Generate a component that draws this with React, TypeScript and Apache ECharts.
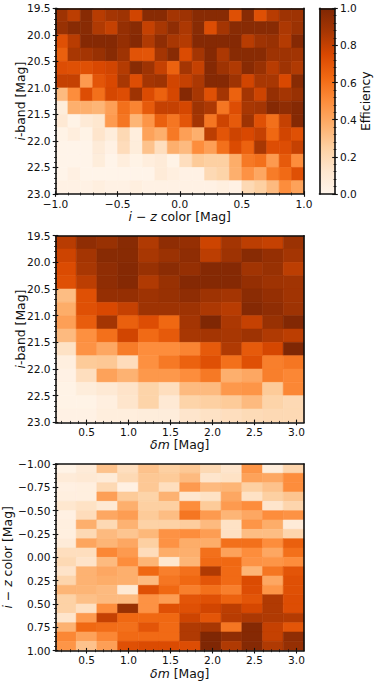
import React, { useEffect, useRef } from "react";
import * as echarts from "echarts";

const FONT = "DejaVu Sans";
const INK = "#111111";
const NAME_SIZE = 12.4;
const TICK_SIZE = 10.6;
const ORANGES = ["#fff5eb", "#fee6ce", "#fdd0a2", "#fdae6b", "#fd8d3c", "#f16913", "#d94801", "#a63603", "#7f2704"];

const colorEdges = [-1, -0.9, -0.8, -0.7, -0.6, -0.5, -0.4, -0.3, -0.2, -0.1, 0, 0.1, 0.2, 0.3, 0.4, 0.5, 0.6, 0.7, 0.8, 0.9, 1];
const magEdges = [19.5, 19.75, 20, 20.25, 20.5, 20.75, 21, 21.25, 21.5, 21.75, 22, 22.25, 22.5, 22.75, 23];
const dmEdges = [0.13, 0.377, 0.623, 0.87, 1.117, 1.363, 1.61, 1.857, 2.103, 2.35, 2.597, 2.843, 3.09];

const magTicks = [19.5, 20, 20.5, 21, 21.5, 22, 22.5, 23];
const magMinor = [19.6, 19.7, 19.8, 19.9, 20.1, 20.2, 20.3, 20.4, 20.6, 20.7, 20.8, 20.9, 21.1, 21.2, 21.3, 21.4, 21.6, 21.7, 21.8, 21.9, 22.1, 22.2, 22.3, 22.4, 22.6, 22.7, 22.8, 22.9];
const colorTicks = [-1, -0.5, 0, 0.5, 1];
const colorMinor = [-0.9, -0.8, -0.7, -0.6, -0.4, -0.3, -0.2, -0.1, 0.1, 0.2, 0.3, 0.4, 0.6, 0.7, 0.8, 0.9];
const dmTicks = [0.5, 1, 1.5, 2, 2.5, 3];
const dmMinor = [0.2, 0.3, 0.4, 0.6, 0.7, 0.8, 0.9, 1.1, 1.2, 1.3, 1.4, 1.6, 1.7, 1.8, 1.9, 2.1, 2.2, 2.3, 2.4, 2.6, 2.7, 2.8, 2.9];
const colorFineTicks = [-1, -0.75, -0.5, -0.25, 0, 0.25, 0.5, 0.75, 1];
const colorFineMinor = [-0.95, -0.9, -0.85, -0.8, -0.7, -0.65, -0.6, -0.55, -0.45, -0.4, -0.35, -0.3, -0.2, -0.15, -0.1, -0.05, 0.05, 0.1, 0.15, 0.2, 0.3, 0.35, 0.4, 0.45, 0.55, 0.6, 0.65, 0.7, 0.8, 0.85, 0.9, 0.95];
const effTicks = [0, 0.2, 0.4, 0.6, 0.8, 1];
const effMinor = [0.04, 0.08, 0.12, 0.16, 0.24, 0.28, 0.32, 0.36, 0.44, 0.48, 0.52, 0.56, 0.64, 0.68, 0.72, 0.76, 0.84, 0.88, 0.92, 0.96];

const colorMagValues = [
  [0.9, 0.82, 0.97, 0.83, 0.88, 0.9, 0.77, 0.97, 0.97, 0.88, 0.9, 0.97, 0.97, 0.97, 0.72, 0.97, 0.72, 0.83, 0.9, 0.9],
  [0.92, 0.97, 0.97, 0.85, 0.8, 0.93, 0.97, 0.8, 0.87, 0.95, 0.86, 0.97, 0.73, 0.88, 0.97, 0.97, 0.97, 0.97, 0.86, 0.91],
  [0.72, 0.83, 0.98, 0.98, 0.98, 0.93, 0.98, 0.85, 0.95, 0.87, 0.84, 0.98, 0.98, 0.98, 0.98, 0.83, 0.9, 0.92, 0.84, 0.98],
  [0.66, 0.87, 0.88, 0.92, 0.97, 0.9, 0.71, 0.7, 0.88, 0.97, 0.74, 0.88, 0.98, 0.86, 0.97, 0.97, 0.97, 0.9, 0.9, 0.89],
  [0.73, 0.72, 0.72, 0.75, 0.77, 0.84, 0.97, 0.9, 0.8, 0.65, 0.88, 0.8, 0.98, 0.9, 0.85, 0.97, 0.92, 0.83, 0.9, 0.85],
  [0.8, 0.8, 0.45, 0.7, 0.75, 0.87, 0.73, 0.88, 0.9, 0.77, 0.8, 0.86, 0.98, 0.98, 0.9, 0.77, 0.87, 0.87, 0.75, 0.97],
  [0.33, 0.5, 0.73, 0.6, 0.76, 0.73, 0.9, 0.74, 0.65, 0.76, 0.98, 0.87, 0.72, 0.88, 0.65, 0.88, 0.78, 0.93, 0.88, 0.92],
  [0.07, 0.37, 0.37, 0.35, 0.43, 0.6, 0.53, 0.68, 0.8, 0.8, 0.76, 0.9, 0.86, 0.58, 0.73, 0.87, 0.88, 0.98, 0.95, 0.98],
  [0.1, 0.02, 0.09, 0.12, 0.45, 0.58, 0.35, 0.47, 0.66, 0.58, 0.7, 0.88, 0.58, 0.78, 0.68, 0.9, 0.72, 0.6, 0.8, 0.98],
  [0.02, 0.06, 0.02, 0.13, 0.07, 0.2, 0.06, 0.42, 0.37, 0.57, 0.43, 0.37, 0.82, 0.7, 0.78, 0.75, 0.8, 0.63, 0.77, 0.72],
  [0.01, 0.01, 0.01, 0.08, 0.03, 0.18, 0.07, 0.3, 0.17, 0.37, 0.33, 0.5, 0.43, 0.6, 0.74, 0.65, 0.87, 0.73, 0.73, 0.8],
  [0.01, 0.01, 0.01, 0.07, 0.01, 0.06, 0.02, 0.06, 0.08, 0.02, 0.17, 0.27, 0.25, 0.25, 0.38, 0.57, 0.6, 0.45, 0.68, 0.5],
  [0.01, 0.04, 0.01, 0.01, 0.01, 0.01, 0.01, 0.01, 0.08, 0.05, 0.03, 0.03, 0.2, 0.23, 0.37, 0.48, 0.4, 0.56, 0.62, 0.72],
  [0.03, 0.03, 0.03, 0.05, 0.03, 0.03, 0.05, 0.03, 0.03, 0.03, 0.03, 0.03, 0.03, 0.05, 0.03, 0.2, 0.25, 0.33, 0.5, 0.42],
];

const dmMagValues = [
  [0.83, 0.95, 0.92, 0.97, 0.85, 0.95, 0.93, 0.78, 0.88, 0.82, 0.8, 0.91],
  [0.78, 0.88, 0.97, 0.97, 0.87, 0.91, 0.95, 0.82, 0.9, 0.97, 0.93, 0.88],
  [0.74, 0.87, 0.95, 0.98, 0.92, 0.96, 0.93, 0.98, 0.98, 0.89, 0.92, 0.82],
  [0.72, 0.82, 0.95, 0.98, 0.85, 0.92, 0.98, 0.98, 0.98, 0.93, 0.9, 0.89],
  [0.32, 0.72, 0.93, 0.93, 0.9, 0.92, 0.95, 0.9, 0.88, 0.96, 0.93, 0.89],
  [0.38, 0.72, 0.75, 0.8, 0.9, 0.9, 0.9, 0.86, 0.83, 0.98, 0.95, 0.9],
  [0.43, 0.67, 0.88, 0.66, 0.73, 0.63, 0.88, 1.0, 0.86, 0.8, 0.92, 0.99],
  [0.33, 0.49, 0.6, 0.77, 0.62, 0.68, 0.87, 0.88, 0.87, 0.9, 0.85, 0.82],
  [0.15, 0.48, 0.4, 0.56, 0.5, 0.5, 0.53, 0.68, 0.85, 0.68, 0.76, 1.0],
  [0.05, 0.27, 0.28, 0.18, 0.49, 0.57, 0.65, 0.72, 0.6, 0.72, 0.55, 0.58],
  [0.03, 0.17, 0.42, 0.36, 0.46, 0.46, 0.5, 0.57, 0.37, 0.4, 0.55, 0.52],
  [0.02, 0.07, 0.1, 0.14, 0.23, 0.17, 0.33, 0.33, 0.46, 0.47, 0.27, 0.52],
  [0.02, 0.02, 0.05, 0.13, 0.23, 0.1, 0.23, 0.25, 0.27, 0.33, 0.23, 0.2],
  [0.03, 0.03, 0.06, 0.06, 0.07, 0.07, 0.13, 0.15, 0.17, 0.19, 0.2, 0.2],
];

const dmColorValues = [
  [0.02, 0.08, 0.3, 0.17, 0.3, 0.25, 0.28, 0.2, 0.13, 0.47, 0.07, 0.22],
  [0.08, 0.1, 0.08, 0.2, 0.28, 0.27, 0.33, 0.13, 0.15, 0.42, 0.4, 0.5],
  [0.04, 0.05, 0.2, 0.04, 0.28, 0.17, 0.45, 0.33, 0.35, 0.25, 0.3, 0.5],
  [0.05, 0.05, 0.43, 0.27, 0.23, 0.36, 0.12, 0.15, 0.4, 0.15, 0.25, 0.29],
  [0.12, 0.15, 0.1, 0.37, 0.25, 0.25, 0.5, 0.27, 0.45, 0.5, 0.13, 0.22],
  [0.04, 0.18, 0.4, 0.44, 0.27, 0.32, 0.58, 0.45, 0.35, 0.4, 0.5, 0.48],
  [0.05, 0.37, 0.2, 0.36, 0.24, 0.24, 0.26, 0.33, 0.15, 0.47, 0.38, 0.08],
  [0.05, 0.2, 0.33, 0.29, 0.34, 0.48, 0.5, 0.44, 0.16, 0.32, 0.32, 0.22],
  [0.08, 0.41, 0.35, 0.4, 0.25, 0.48, 0.38, 0.38, 0.6, 0.6, 0.5, 0.66],
  [0.17, 0.17, 0.52, 0.45, 0.18, 0.38, 0.37, 0.6, 0.42, 0.5, 0.4, 0.6],
  [0.2, 0.14, 0.33, 0.5, 0.35, 0.12, 0.35, 0.62, 0.63, 0.48, 0.47, 0.5],
  [0.14, 0.36, 0.4, 0.37, 0.63, 0.55, 0.6, 0.85, 0.62, 0.35, 0.58, 0.7],
  [0.22, 0.36, 0.38, 0.37, 0.33, 0.58, 0.63, 0.7, 0.62, 0.74, 0.4, 0.72],
  [0.35, 0.35, 0.33, 0.1, 0.72, 0.63, 0.55, 0.6, 0.55, 0.73, 0.47, 0.72],
  [0.24, 0.31, 0.33, 0.33, 0.48, 0.44, 0.7, 0.72, 0.65, 0.7, 0.85, 0.73],
  [0.24, 0.16, 0.5, 0.92, 0.48, 0.72, 0.72, 0.77, 0.82, 0.76, 0.85, 0.73],
  [0.13, 0.45, 0.8, 0.63, 0.63, 0.63, 0.78, 0.7, 0.83, 0.86, 0.85, 0.84],
  [0.36, 0.63, 0.61, 0.6, 0.7, 0.62, 0.85, 0.87, 0.58, 0.98, 0.8, 0.7],
  [0.52, 0.42, 0.52, 0.62, 0.62, 0.62, 0.85, 1.0, 0.95, 0.98, 0.8, 0.95],
  [0.47, 0.3, 0.43, 0.72, 0.74, 0.74, 0.73, 1.0, 0.85, 0.98, 0.85, 0.93],
];

const minus = (s: string) => s.replace("-", "\u2212");

type AxisSpec = {
  min: number;
  max: number;
  ticks: number[];
  minor: number[];
  fmt: (v: number) => string;
  name: string;
  gap: number;
  margin: number;
  inverse?: boolean;
};

const AXIS_Z = 10;

function buildOption() {
  const grids: any[] = [];
  const xAxes: any[] = [];
  const yAxes: any[] = [];
  const series: any[] = [];

  const nameStyle = {
    fontFamily: FONT,
    fontSize: NAME_SIZE,
    color: INK,
    rich: { it: { fontFamily: FONT, fontSize: NAME_SIZE, fontStyle: "italic", color: INK } },
  };

  // One axis carries line, labels and outward ticks; others add the inward half and minor ticks.
  const addAxes = (list: any[], gridIndex: number, side: string, a: AxisSpec, rotate = 0) => {
    const base = { type: "value", gridIndex, position: side, min: a.min, max: a.max, inverse: a.inverse, splitLine: { show: false }, silent: true, z: AXIS_Z };
    const mainIndex = list.length;
    list.push({
      ...base,
      name: a.name,
      nameLocation: "middle",
      nameGap: a.gap,
      nameRotate: rotate,
      nameMoveOverlap: false,
      nameTextStyle: nameStyle,
      axisLine: { show: true, onZero: false, lineStyle: { color: INK, width: 1.6 } },
      axisTick: { show: true, length: 2.8, customValues: a.ticks, lineStyle: { color: INK, width: 1.1 } },
      axisLabel: {
        show: true,
        customValues: a.ticks,
        formatter: a.fmt,
        margin: a.margin,
        fontFamily: FONT,
        fontSize: TICK_SIZE,
        color: INK,
        hideOverlap: false,
      },
    });
    const extra = (vals: number[], length: number, inside: boolean, width: number) => {
      list.push({
        ...base,
        axisLine: { show: false, onZero: false },
        axisLabel: { show: false },
        axisTick: { show: true, inside, length, customValues: vals, lineStyle: { color: INK, width } },
      });
    };
    extra(a.ticks, 2.8, true, 1.1);
    extra(a.minor, 1.5, false, 0.8);
    extra(a.minor, 1.5, true, 0.8);
    return mainIndex;
  };

  const addFrame = (list: any[], gridIndex: number, side: string, min: number, max: number, inverse?: boolean) => {
    list.push({
      type: "value",
      gridIndex,
      position: side,
      min,
      max,
      inverse,
      silent: true,
      z: AXIS_Z,
      splitLine: { show: false },
      axisTick: { show: false },
      axisLabel: { show: false },
      axisLine: { show: true, onZero: false, lineStyle: { color: INK, width: 1.6 } },
    });
  };

  const heatmap = (
    g: { top: number; height: number },
    xA: AxisSpec,
    yA: AxisSpec,
    xEdges: number[],
    yEdges: number[],
    values: number[][],
  ) => {
    const gridIndex = grids.length;
    grids.push({ left: 55.5, width: 248.5, top: g.top, height: g.height, outerBoundsMode: "none" });
    const xi = addAxes(xAxes, gridIndex, "bottom", xA);
    const yi = addAxes(yAxes, gridIndex, "left", yA, 90);
    addFrame(xAxes, gridIndex, "top", xA.min, xA.max);
    addFrame(yAxes, gridIndex, "right", yA.min, yA.max, yA.inverse);
    const data: number[][] = [];
    values.forEach((row, r) =>
      row.forEach((v, c) => data.push([xEdges[c], yEdges[r], xEdges[c + 1], yEdges[r + 1], v])),
    );
    series.push({
      type: "custom",
      xAxisIndex: xi,
      yAxisIndex: yi,
      coordinateSystem: "cartesian2d",
      silent: true,
      clip: true,
      data,
      encode: { x: [0, 2], y: [1, 3] },
      renderItem: (_p: any, api: any) => {
        const a = api.coord([api.value(0), api.value(1)]);
        const b = api.coord([api.value(2), api.value(3)]);
        const fill = api.visual("color");
        return {
          type: "rect",
          shape: { x: Math.min(a[0], b[0]), y: Math.min(a[1], b[1]), width: Math.abs(b[0] - a[0]), height: Math.abs(b[1] - a[1]) },
          style: { fill, stroke: fill, lineWidth: 0.6 },
        };
      },
    });
  };

  const num1 = (v: number) => minus(v.toFixed(1));
  const num2 = (v: number) => minus(v.toFixed(2));
  const colorLabel = "{it|i} \u2212 {it|z} color [Mag]";
  const magLabel = "{it|i}-band [Mag]";
  const dmLabel = "{it|\u03b4m} [Mag]";

  heatmap(
    { top: 8.3, height: 185.7 },
    { min: -1, max: 1, ticks: colorTicks, minor: colorMinor, fmt: num1, name: colorLabel, gap: 16, margin: 4 },
    { min: 19.5, max: 23, ticks: magTicks, minor: magMinor, fmt: num1, name: magLabel, gap: 29, margin: 5, inverse: true },
    colorEdges,
    magEdges,
    colorMagValues,
  );
  heatmap(
    { top: 235.7, height: 186.7 },
    { min: 0.13, max: 3.09, ticks: dmTicks, minor: dmMinor, fmt: num1, name: dmLabel, gap: 16, margin: 4 },
    { min: 19.5, max: 23, ticks: magTicks, minor: magMinor, fmt: num1, name: magLabel, gap: 29, margin: 5, inverse: true },
    dmEdges,
    magEdges,
    dmMagValues,
  );
  heatmap(
    { top: 464, height: 186.7 },
    { min: 0.13, max: 3.09, ticks: dmTicks, minor: dmMinor, fmt: num1, name: dmLabel, gap: 16.5, margin: 4 },
    { min: -1, max: 1, ticks: colorFineTicks, minor: colorFineMinor, fmt: num2, name: colorLabel, gap: 42, margin: 5, inverse: true },
    dmEdges,
    colorEdges,
    dmColorValues,
  );

  // Colour bar
  const barIndex = grids.length;
  grids.push({ left: 319.5, width: 15.5, top: 8.3, height: 185.7, outerBoundsMode: "none" });
  const barX = xAxes.length;
  xAxes.push({ type: "value", gridIndex: barIndex, min: 0, max: 1, show: false });
  const barY = addAxes(
    yAxes,
    barIndex,
    "right",
    { min: 0, max: 1, ticks: effTicks, minor: effMinor, fmt: num1, name: "Efficiency", gap: 24, margin: 5 },
    90,
  );
  addFrame(yAxes, barIndex, "left", 0, 1);
  addFrame(xAxes, barIndex, "top", 0, 1);
  addFrame(xAxes, barIndex, "bottom", 0, 1);
  series.push({
    type: "custom",
    xAxisIndex: barX,
    yAxisIndex: barY,
    coordinateSystem: "cartesian2d",
    silent: true,
    data: [[0, 0, 1, 1]],
    encode: { x: [0, 2], y: [1, 3] },
    renderItem: (_p: any, api: any) => {
      const a = api.coord([api.value(0), api.value(1)]);
      const b = api.coord([api.value(2), api.value(3)]);
      const stops = ORANGES.map((color, i) => ({ offset: i / (ORANGES.length - 1), color }));
      return {
        type: "rect",
        shape: { x: a[0], y: b[1], width: b[0] - a[0], height: a[1] - b[1] },
        style: { fill: new echarts.graphic.LinearGradient(0, 1, 0, 0, stops) },
      };
    },
  });

  return {
    animation: false,
    backgroundColor: "#ffffff",
    textStyle: { fontFamily: FONT },
    visualMap: {
      show: false,
      type: "continuous",
      min: 0,
      max: 1,
      dimension: 4,
      seriesIndex: [0, 1, 2],
      inRange: { color: ORANGES },
    },
    grid: grids,
    xAxis: xAxes,
    yAxis: yAxes,
    series,
  };
}

export default function App() {
  const ref = useRef<HTMLDivElement>(null);
  useEffect(() => {
    document.body.style.margin = "0";
    const chart = echarts.init(ref.current!, undefined, { renderer: "svg" });
    chart.setOption(buildOption() as any);
    return () => chart.dispose();
  }, []);
  return <div ref={ref} style={{ width: 374, height: 684 }} />;
}
